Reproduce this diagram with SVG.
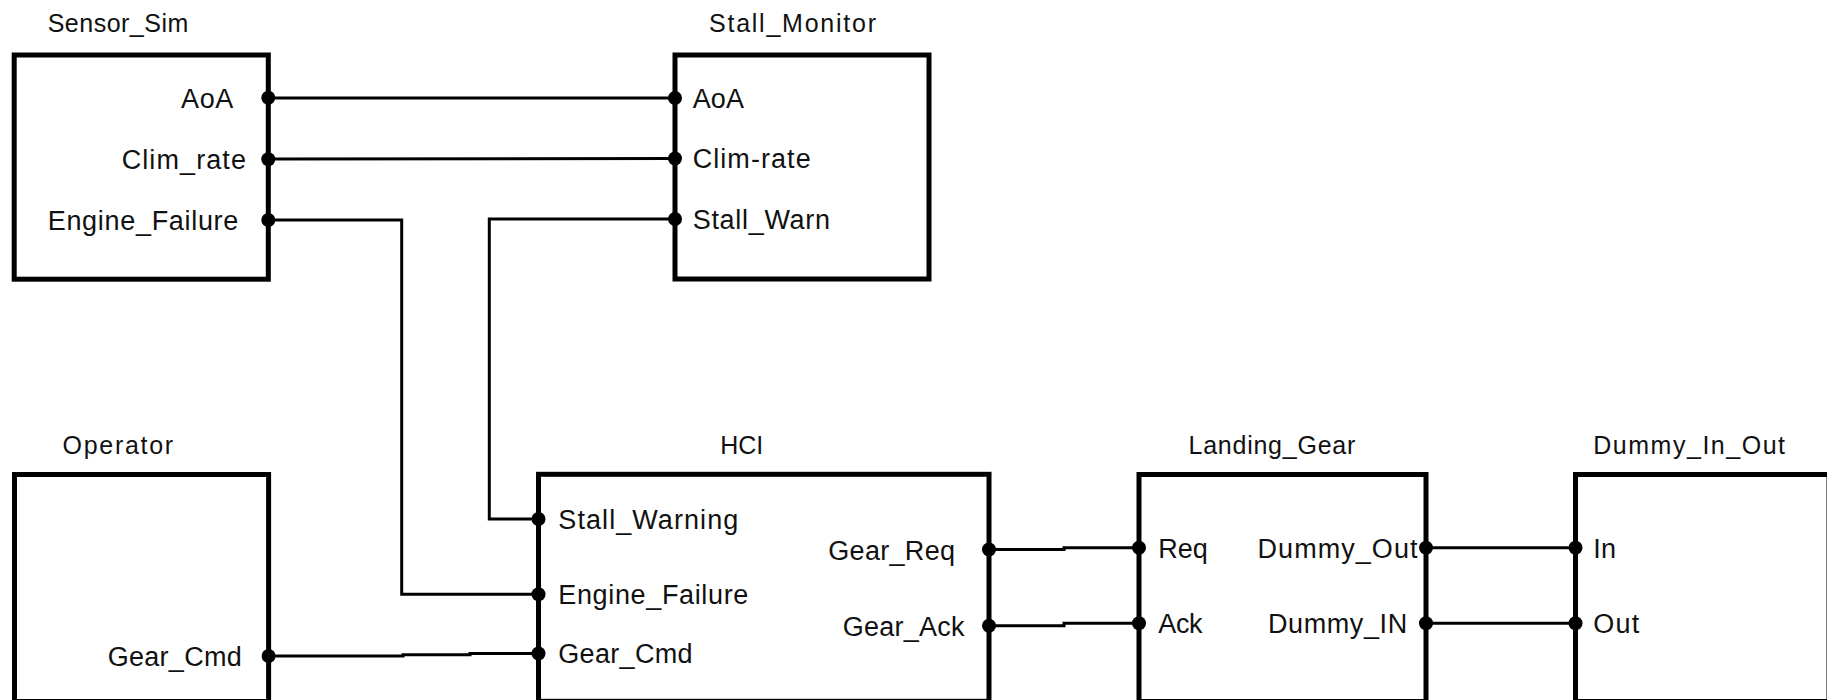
<svg xmlns="http://www.w3.org/2000/svg" width="1827" height="700" viewBox="0 0 1827 700">
<style>
.box{fill:#fff;stroke:#000;stroke-width:5}
.wire{fill:none;stroke:#000;stroke-width:3}
.dot{fill:#000}
text{font-family:"Liberation Sans",Arial,sans-serif;fill:#111}
.title{font-size:25px}
.lbl{font-size:27px}
</style>
<rect width="1827" height="700" fill="#fff"/>
<g id="connectors">
<path class="wire" d="M268,98 L675,98"/>
<path class="wire" d="M268,159 L675,158.5"/>
<path class="wire" d="M268,220 H401.7 V594.3 H538.5"/>
<path class="wire" d="M675,219 H489.3 V519 H538.5"/>
<path class="wire" d="M268.6,656 H403 V654.7 H470 V653.5 H538.5"/>
<path class="wire" d="M989,549.5 H1064 V547.7 H1139"/>
<path class="wire" d="M989,625.7 H1064 V623.3 H1139"/>
<path class="wire" d="M1426,547.7 H1575"/>
<path class="wire" d="M1426,623.3 H1575"/>
</g>
<g id="Sensor_Sim">
<text class="title" x="47.7" y="32" textLength="140.6">Sensor_Sim</text>
<rect class="box" x="14.2" y="55" width="254.1" height="224.2"/>
<text class="lbl" x="181" y="107.7" textLength="52.3">AoA</text>
<text class="lbl" x="121.7" y="169.3" textLength="124.3">Clim_rate</text>
<text class="lbl" x="47.7" y="230" textLength="190.6">Engine_Failure</text>
<circle class="dot" cx="268.3" cy="97.7" r="7"/>
<circle class="dot" cx="268.3" cy="159.3" r="7"/>
<circle class="dot" cx="268.3" cy="220" r="7"/>
</g>
<g id="Stall_Monitor">
<text class="title" x="709" y="32" textLength="167">Stall_Monitor</text>
<rect class="box" x="675" y="55" width="254" height="224"/>
<text class="lbl" x="692.7" y="108" textLength="51.3">AoA</text>
<text class="lbl" x="692.7" y="168" textLength="118">Clim-rate</text>
<text class="lbl" x="692.7" y="229" textLength="137.3">Stall_Warn</text>
<circle class="dot" cx="675" cy="98" r="7"/>
<circle class="dot" cx="675" cy="158.5" r="7"/>
<circle class="dot" cx="675" cy="219" r="7"/>
</g>
<g id="Operator">
<text class="title" x="62.5" y="454" textLength="110.7">Operator</text>
<rect class="box" x="14.5" y="474.5" width="254.1" height="227"/>
<text class="lbl" x="107.7" y="666" textLength="134">Gear_Cmd</text>
<circle class="dot" cx="268.6" cy="656" r="7"/>
</g>
<g id="HCI">
<text class="title" x="741.7" y="454" text-anchor="middle">HCI</text>
<rect class="box" x="538.5" y="474.3" width="450.5" height="227"/>
<text class="lbl" x="558.3" y="529" textLength="180">Stall_Warning</text>
<text class="lbl" x="558.3" y="604.3" textLength="190">Engine_Failure</text>
<text class="lbl" x="558.3" y="663.3" textLength="134.3">Gear_Cmd</text>
<text class="lbl" x="828.3" y="560" textLength="126.7">Gear_Req</text>
<text class="lbl" x="842.7" y="635.7" textLength="121.7">Gear_Ack</text>
<circle class="dot" cx="538.5" cy="519" r="7"/>
<circle class="dot" cx="538.5" cy="594.3" r="7"/>
<circle class="dot" cx="538.5" cy="653.5" r="7"/>
<circle class="dot" cx="989" cy="549.5" r="7"/>
<circle class="dot" cx="989" cy="625.7" r="7"/>
</g>
<g id="Landing_Gear">
<text class="title" x="1188.5" y="454" textLength="166.8">Landing_Gear</text>
<rect class="box" x="1139" y="474.5" width="287" height="227"/>
<text class="lbl" x="1158.3" y="557.7" textLength="49.6">Req</text>
<text class="lbl" x="1158.3" y="633.3" textLength="44.2">Ack</text>
<text class="lbl" x="1257.5" y="557.7" textLength="160">Dummy_Out</text>
<text class="lbl" x="1267.9" y="633.3" textLength="139.3">Dummy_IN</text>
<circle class="dot" cx="1139" cy="547.7" r="7"/>
<circle class="dot" cx="1139" cy="623.3" r="7"/>
<circle class="dot" cx="1426" cy="547.7" r="7"/>
<circle class="dot" cx="1426" cy="623.3" r="7"/>
</g>
<g id="Dummy_In_Out">
<text class="title" x="1593.3" y="454" textLength="191.7">Dummy_In_Out</text>
<rect class="box" x="1575.5" y="474.5" width="253.5" height="227"/>
<text class="lbl" x="1593.3" y="557.7" textLength="22.7">In</text>
<text class="lbl" x="1593.3" y="633.3" textLength="46">Out</text>
<circle class="dot" cx="1575.5" cy="547.7" r="7"/>
<circle class="dot" cx="1575.5" cy="623.3" r="7"/>
</g>
</svg>
